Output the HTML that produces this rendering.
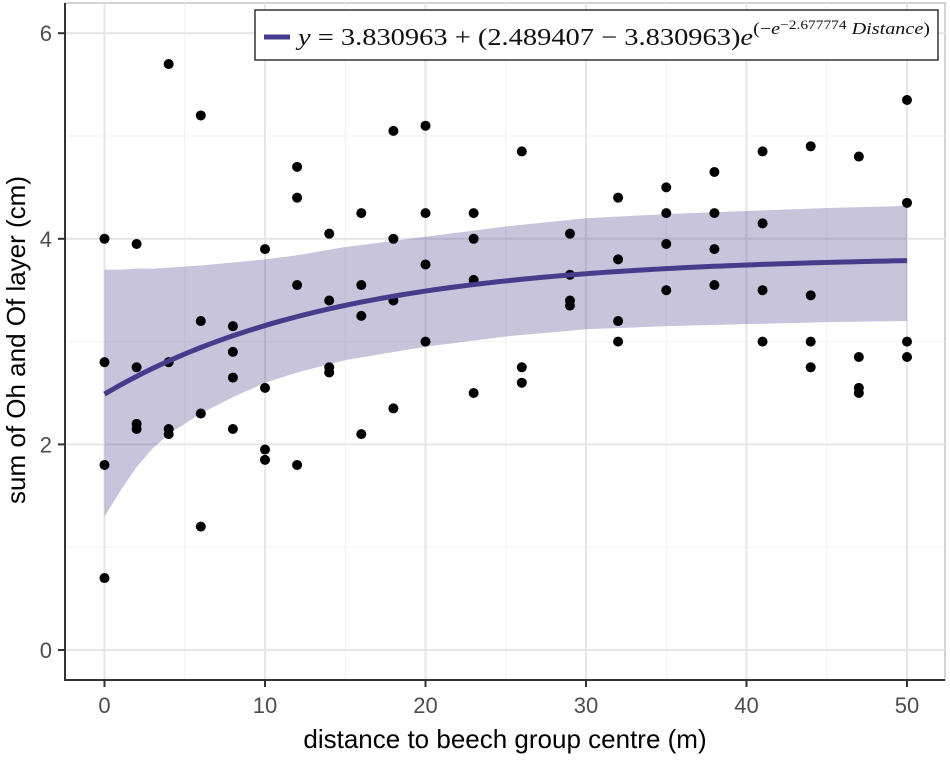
<!DOCTYPE html>
<html><head><meta charset="utf-8"><style>
body{margin:0;background:#fff;width:950px;height:755px;overflow:hidden}
svg text{font-family:"Liberation Sans",sans-serif}
svg text.serif{font-family:"Liberation Serif",serif}
</style></head><body>
<svg id="chart" width="950" height="755" xmlns="http://www.w3.org/2000/svg">
<g id="grid"></g>
<g id="band"></g>
<g id="pts"></g>
<g id="axes"></g>
<g>
<rect x="255" y="10" width="683" height="50" fill="#fff" stroke="#333" stroke-width="1.5"/>
<line x1="264" y1="37" x2="290" y2="37" stroke="#463c8c" stroke-width="5"/>
<text class="serif" x="298" y="45" font-size="24" fill="#111" textLength="632" lengthAdjust="spacingAndGlyphs"><tspan font-style="italic">y</tspan> = 3.830963 + (2.489407 − 3.830963)<tspan font-style="italic">e</tspan><tspan dy="-11" font-size="17">(−<tspan font-style="italic">e</tspan><tspan dy="-5" font-size="13">−2.677774</tspan><tspan dy="5" font-style="italic"> Distance</tspan>)</tspan></text>
</g>
</svg>
<script>
const xs=[0,0,0,0,2,2,2,2,4,4,4,4,6,6,6,6,8,8,8,8,10,10,10,10,12,12,12,12,14,14,14,14,16,16,16,16,18,18,18,18,20,20,20,20,23,23,23,23,26,26,26,29,29,29,29,32,32,32,32,35,35,35,35,38,38,38,38,41,41,41,41,44,44,44,44,47,47,47,47,50,50,50,50];
const ys=[4.0,2.8,1.8,0.7,3.95,2.75,2.2,2.15,5.7,2.8,2.15,2.1,5.2,3.2,2.3,1.2,3.15,2.9,2.65,2.15,3.9,2.55,1.95,1.85,4.7,4.4,3.55,1.8,4.05,3.4,2.75,2.7,4.25,3.55,3.25,2.1,5.05,4.0,3.4,2.35,5.1,4.25,3.75,3.0,4.25,4.0,3.6,2.5,4.85,2.75,2.6,4.05,3.65,3.4,3.35,4.4,3.8,3.2,3.0,4.5,4.25,3.95,3.5,4.65,4.25,3.9,3.55,4.85,4.15,3.5,3.0,4.9,3.45,3.0,2.75,4.8,2.85,2.55,2.5,5.35,4.35,3.0,2.85];
const bandX=[0,1,2,3,4,6,8,10,12,15,20,25,30,35,40,45,50];
const bandLo=[1.3,1.55,1.78,1.96,2.1,2.3,2.46,2.6,2.7,2.82,2.95,3.05,3.12,3.15,3.17,3.19,3.2];
const bandHi=[3.7,3.7,3.71,3.71,3.72,3.74,3.77,3.8,3.84,3.92,4.02,4.12,4.2,4.24,4.27,4.3,4.32];
const xTicks=[0,10,20,30,40,50];
const yTicks=[0,2,4,6];
const A=3.830963,B=2.489407,K=-2.677774;
const X=v=>104.5+v*16.05, Y=v=>650-v*102.8;
const NS="http://www.w3.org/2000/svg";
function mk(t,a,p){const e=document.createElementNS(NS,t);for(const k in a)e.setAttribute(k,a[k]);p.appendChild(e);return e;}
const g=document.getElementById('grid');
mk('rect',{x:65,y:3,width:880,height:677,fill:'#fff',stroke:'#aaa','stroke-width':1},g);
for(let v=5;v<=45;v+=10){const l=mk('line',{x1:X(v),x2:X(v),y1:3,y2:680,stroke:'#f2f2f2','stroke-width':1},g);

}
for(let v=1;v<=5;v+=2){const l=mk('line',{x1:65,x2:945,y1:Y(v),y2:Y(v),stroke:'#f2f2f2','stroke-width':1},g);

}
xTicks.forEach(v=>{const l=mk('line',{x1:X(v),x2:X(v),y1:3,y2:680,stroke:'#e6e6e6','stroke-width':2},g);

});
yTicks.forEach(v=>{const l=mk('line',{x1:65,x2:945,y1:Y(v),y2:Y(v),stroke:'#e6e6e6','stroke-width':2},g);

});
const b=document.getElementById('band');
let d='M'+bandX.map((x,i)=>X(x)+','+Y(bandHi[i])).join('L');
for(let i=bandX.length-1;i>=0;i--)d+='L'+X(bandX[i])+','+Y(bandLo[i]);
const poly=mk('path',{d:d+'Z',fill:'#463c8c','fill-opacity':0.3},b);


const p=document.getElementById('pts');
xs.forEach((x,i)=>{const c=mk('circle',{cx:X(x),cy:Y(ys[i]),r:5,fill:'#000'},p);

});
let cd='';for(let t=0;t<=50;t+=0.5){const y=A+(B-A)*Math.exp(-Math.exp(K)*t);cd+=(t?'L':'M')+X(t)+','+Y(y);}
const fit=mk('path',{d:cd,fill:'none',stroke:'#463c8c','stroke-width':5},p);


const ax=document.getElementById('axes');
mk('line',{x1:65,x2:65,y1:3,y2:681,stroke:'#333','stroke-width':2},ax);
mk('line',{x1:64,x2:945,y1:680,y2:680,stroke:'#333','stroke-width':2},ax);
xTicks.forEach(v=>{mk('line',{x1:X(v),x2:X(v),y1:680,y2:687,stroke:'#333','stroke-width':2},ax);
const t=mk('text',{x:X(v),y:713,'text-anchor':'middle','font-size':22,fill:'#4d4d4d'},ax);t.textContent=v;

});
yTicks.forEach(v=>{mk('line',{x1:58,x2:65,y1:Y(v),y2:Y(v),stroke:'#333','stroke-width':2},ax);
const t=mk('text',{x:52,y:Y(v)+8,'text-anchor':'end','font-size':22,fill:'#4d4d4d'},ax);t.textContent=v;

});
const xt=mk('text',{x:505,y:748,'text-anchor':'middle','font-size':26,fill:'#000'},ax);xt.textContent='distance to beech group centre (m)';


const yt=mk('text',{x:0,y:0,'text-anchor':'middle','font-size':26,fill:'#000',transform:'translate(25,340) rotate(-90)'},ax);yt.textContent='sum of Oh and Of layer (cm)';


</script>
</body></html>
